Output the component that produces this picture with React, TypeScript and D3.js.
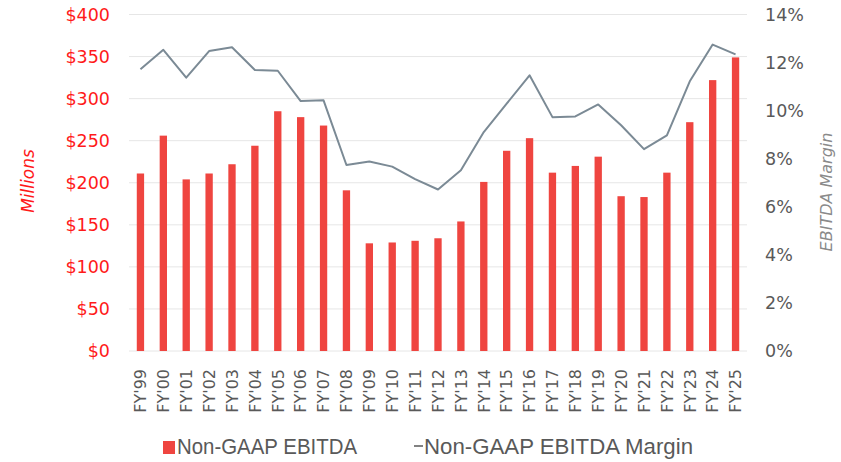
import React from "react";
import * as d3 from "d3";

const categories = ["FY'99","FY'00","FY'01","FY'02","FY'03","FY'04","FY'05","FY'06","FY'07","FY'08","FY'09","FY'10","FY'11","FY'12","FY'13","FY'14","FY'15","FY'16","FY'17","FY'18","FY'19","FY'20","FY'21","FY'22","FY'23","FY'24","FY'25"];
const ebitda = [211,256,204,211,222,244,285,278,268,191,128,129,131,134,154,201,238,253,212,220,231,184,183,212,272,322,349];
const margin = [11.72,12.53,11.37,12.48,12.64,11.69,11.66,10.4,10.43,7.74,7.88,7.67,7.15,6.72,7.52,9.11,10.29,11.47,9.73,9.76,10.26,9.39,8.4,8.97,11.22,12.75,12.34];
const leftTicks = [0,50,100,150,200,250,300,350,400];
const rightTicks = [0,2,4,6,8,10,12,14];

const W = 841, H = 462;
const X0 = 129, X1 = 747, Y0 = 351, Y1 = 14.5;
const RED = "#ef4540";
const GRAY = "#595959";
const LINE = "#7b8a95";
const FONT = "'DejaVu Sans', sans-serif";

export default function App() {
  const x = d3.scaleBand<string>().domain(categories).range([X0, X1]).padding(0);
  const yL = d3.scaleLinear().domain([0, 400]).range([Y0, Y1]);
  const yR = d3.scaleLinear().domain([0, 14]).range([Y0, Y1]);
  const bw = x.bandwidth() * 0.32;
  const cx = (c: string) => (x(c) as number) + x.bandwidth() / 2;
  const line = d3.line<number>().x((_, i) => cx(categories[i])).y((d) => yR(d));

  return (
    <svg width={W} height={H} style={{ position: "absolute", left: 0, top: 0, background: "#fff" }} fontFamily={FONT}>
      {leftTicks.map((t) => (
        <line key={"g" + t} x1={X0} x2={X1} y1={yL(t)} y2={yL(t)} stroke="#e6e6e6" strokeWidth={1} />
      ))}
      {leftTicks.map((t) => (
        <text key={"l" + t} x={110} y={yL(t)} dy="0.36em" textAnchor="end" fill="#ff1a1a" fontSize={17.5}>
          {"$" + t}
        </text>
      ))}
      {rightTicks.map((t) => (
        <text key={"r" + t} x={765} y={yR(t)} dy="0.36em" textAnchor="start" fill={GRAY} fontSize={17.5}>
          {t + "%"}
        </text>
      ))}
      <text transform={`translate(34,181) rotate(-90)`} textAnchor="middle" fill="#ff1a1a" fontSize={17} fontStyle="italic">
        Millions
      </text>
      <text transform={`translate(832,192) rotate(-90)`} textAnchor="middle" fill="#8a8a8a" fontSize={16} fontStyle="italic">
        EBITDA Margin
      </text>
      {categories.map((c, i) => (
        <rect key={"b" + c} x={cx(c) - bw / 2} y={yL(ebitda[i])} width={bw} height={Y0 - yL(ebitda[i])} fill={RED} />
      ))}
      <path d={line(margin) || ""} fill="none" stroke={LINE} strokeWidth={2} strokeLinejoin="round" />
      {categories.map((c) => (
        <text key={"x" + c} transform={`translate(${cx(c)},369) rotate(-90)`} textAnchor="end" dy="0.36em" fill={GRAY} fontSize={16}>
          {c}
        </text>
      ))}
      <rect x={163} y={441} width={12} height={13} fill={RED} />
      <text x={177} y={454} fill={GRAY} fontSize={22} fontFamily="'Liberation Sans', Arial, sans-serif" textLength={180} lengthAdjust="spacingAndGlyphs">
        Non-GAAP EBITDA
      </text>
      <line x1={414} x2={423} y1={446} y2={446} stroke={GRAY} strokeWidth={1.5} />
      <text x={424} y={454} fill={GRAY} fontSize={22} fontFamily="'Liberation Sans', Arial, sans-serif" textLength={269} lengthAdjust="spacingAndGlyphs">
        Non-GAAP EBITDA Margin
      </text>
    </svg>
  );
}
